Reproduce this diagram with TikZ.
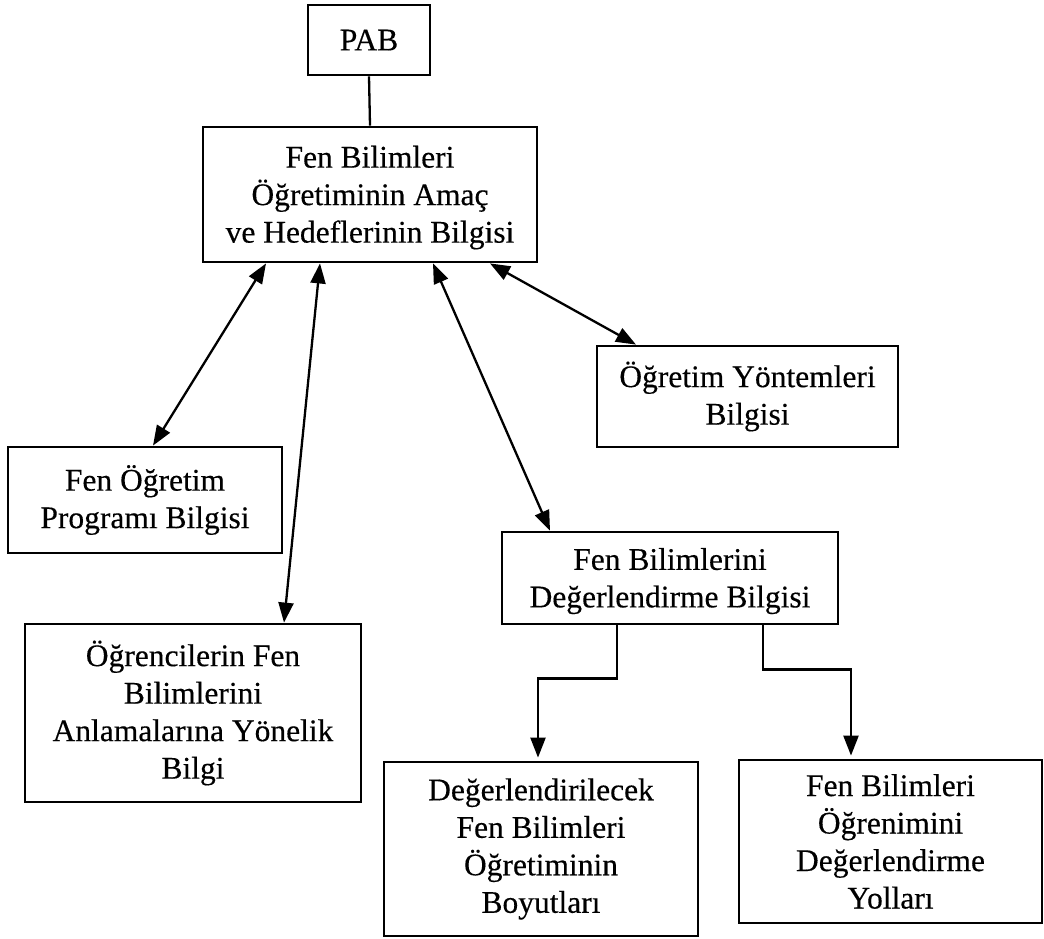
\documentclass[tikz,border=0pt]{standalone}
\usepackage{fontspec}
\setmainfont{Liberation Serif}[FakeBold=0.35]
\usetikzlibrary{arrows.meta}
\tikzset{
  box/.style={draw=black, line width=2.8pt, fill=white, align=center, inner sep=0pt,
    font=\fontsize{31.5}{37.5}\selectfont},
  tip/.style={-{Triangle[length=20pt,width=15pt]}},
  dtip/.style={{Triangle[length=20pt,width=15pt]}-{Triangle[length=20pt,width=15pt]}},
  conn/.style={line width=2.3pt, draw=black}
}
\begin{document}
\begin{tikzpicture}[x=1pt,y=-1pt]
\useasboundingbox (0,0) rectangle (1044,938);
\node[box, minimum width=122pt, minimum height=70pt] (pab) at (369,40) {PAB};
\node[box, minimum width=334pt, minimum height=135pt] (main) at (370,194.5)
  {\rule{0pt}{28pt}Fen Bilimleri\\Öğretiminin Amaç\\ve Hedeflerinin Bilgisi};
\node[box, minimum width=274pt, minimum height=106pt] (fop) at (145,500)
  {Fen Öğretim\\Programı Bilgisi};
\node[box, minimum width=336pt, minimum height=178pt] (ogr) at (193,713)
  {Öğrencilerin Fen\\Bilimlerini\\Anlamalarına Yönelik\\Bilgi};
\node[box, minimum width=301pt, minimum height=101pt] (oyb) at (747.5,396.5)
  {Öğretim Yöntemleri\\Bilgisi};
\node[box, minimum width=336pt, minimum height=92pt] (fbd) at (670,578)
  {\rule{0pt}{28pt}Fen Bilimlerini\\Değerlendirme Bilgisi};
\node[box, minimum width=314pt, minimum height=174pt] (deg) at (541,849)
  {Değerlendirilecek\\Fen Bilimleri\\Öğretiminin\\Boyutları};
\node[box, minimum width=303pt, minimum height=163pt] (fbo) at (890.5,841.5)
  {Fen Bilimleri\\Öğrenimini\\Değerlendirme\\Yolları};

\draw[conn] (pab.south) -- (main.north);
\draw[conn, dtip] ([xshift=-104pt]main.south) -- ([xshift=8pt]fop.north);
\draw[conn, dtip] ([xshift=-50pt]main.south) -- ([xshift=91pt]ogr.north);
\draw[conn, dtip] ([xshift=63pt]main.south) -- ([xshift=-120pt]fbd.north);
\draw[conn, dtip] ([xshift=120pt]main.south) -- ([xshift=-111.5pt]oyb.north);
\draw[conn, tip, shorten >=3pt] ([xshift=-53pt]fbd.south) -- ++(0,53) -| ([xshift=-3pt]deg.north);
\draw[conn, tip, shorten >=3pt] ([xshift=93pt]fbd.south) -- ++(0,44) -| ([xshift=-39.5pt]fbo.north);
\end{tikzpicture}
\end{document}
